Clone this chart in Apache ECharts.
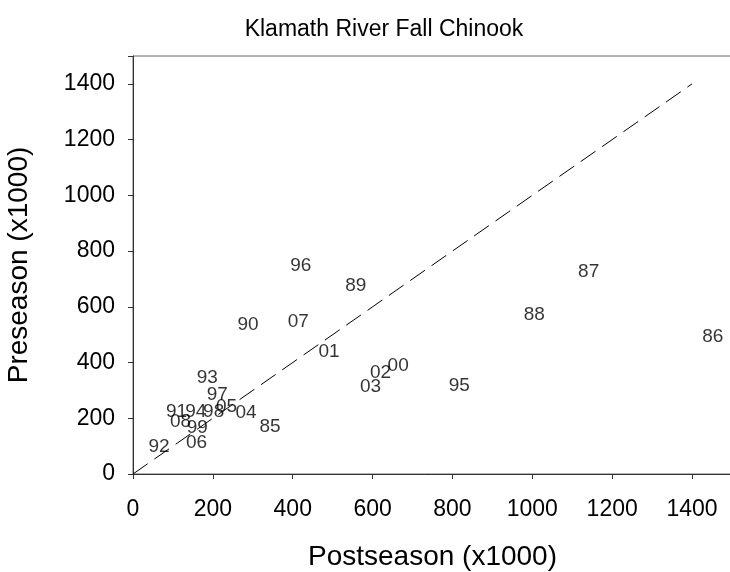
<!DOCTYPE html>
<html>
<head>
<meta charset="utf-8">
<script src="https://cdn.jsdelivr.net/npm/echarts@6/dist/echarts.min.js"></script>
<style>
html,body{margin:0;padding:0;background:#fff;}
#chart{width:730px;height:572px;}
</style>
</head>
<body>
<div id="chart"></div>
<script>
// year labels, postseason and preseason abundance (x1000)
var years = ['85','86','87','88','89','90','91','92','93','94','95','96','97','98','99','00','01','02','03','04','05','06','07','08'];
var postseason = [343,1452,1141,1005,558,288,109,65,186,157,817,420,211,202,161,664,491,620,595,283,234,159,414,119];
var preseason = [171,492,724,572,676,536,225,99,346,223,317,748,285,223,167,389,438,365,314,219,241,113,548,189];
var refLine = [[0,0],[1400,1400]];

var xTicks = [0,200,400,600,800,1000,1200,1400];
var yTicks = [0,200,400,600,800,1000,1200,1400];

var font = 'Liberation Sans, Arial, sans-serif';
var points = [];
for(var i=0;i<years.length;i++){
    points.push([postseason[i],preseason[i],years[i]]);
}

var myChart = echarts.init(document.getElementById('chart'));
var option = {
    animation:false,
    title:{
        text:'Klamath River Fall Chinook',
        left:379,
        top:13,
        textAlign:'center',
        textStyle:{fontFamily:font,fontSize:23,fontWeight:'normal',color:'#000'}
    },
    grid:{
        left:133,
        top:56,
        right:-2,
        bottom:98,
        outerBoundsMode:'none',
        containLabel:false,
        show:true,
        borderColor:'#666',
        borderWidth:1
    },
    xAxis:{
        type:'value',
        min:0,
        max:1500,
        interval:200,
        name:'Postseason (x1000)',
        nameLocation:'middle',
        nameGap:69,
        nameTextStyle:{fontFamily:font,fontSize:28,color:'#000'},
        axisLine:{lineStyle:{color:'#333'}},
        axisTick:{length:5,lineStyle:{color:'#333'}},
        splitLine:{show:false},
        axisLabel:{
            fontFamily:font,fontSize:23,color:'#000',margin:24,
            formatter:function(v){ return xTicks.indexOf(v)>=0 ? String(v) : ''; }
        }
    },
    yAxis:{
        type:'value',
        min:0,
        max:1500,
        interval:200,
        name:'Preseason (x1000)',
        nameLocation:'middle',
        nameGap:100,
        nameTextStyle:{fontFamily:font,fontSize:28,color:'#000'},
        axisLine:{lineStyle:{color:'#333'}},
        axisTick:{length:5,lineStyle:{color:'#333'}},
        splitLine:{show:false},
        axisLabel:{
            fontFamily:font,fontSize:23,color:'#000',margin:18,
            formatter:function(v){ return yTicks.indexOf(v)>=0 ? String(v) : ''; }
        }
    },
    series:[
        {
            type:'line',
            data:refLine,
            symbol:'none',
            lineStyle:{color:'#000',width:1,type:[18,8]},
            z:1
        },
        {
            type:'scatter',
            data:points,
            symbolSize:2,
            itemStyle:{color:'rgba(0,0,0,0)'},
            label:{
                show:true,
                position:'inside',
                formatter:function(p){ return p.value[2]; },
                fontFamily:font,
                fontSize:19,
                color:'#000'
            },
            z:2
        }
    ]
};
myChart.setOption(option);
</script>
</body>
</html>
